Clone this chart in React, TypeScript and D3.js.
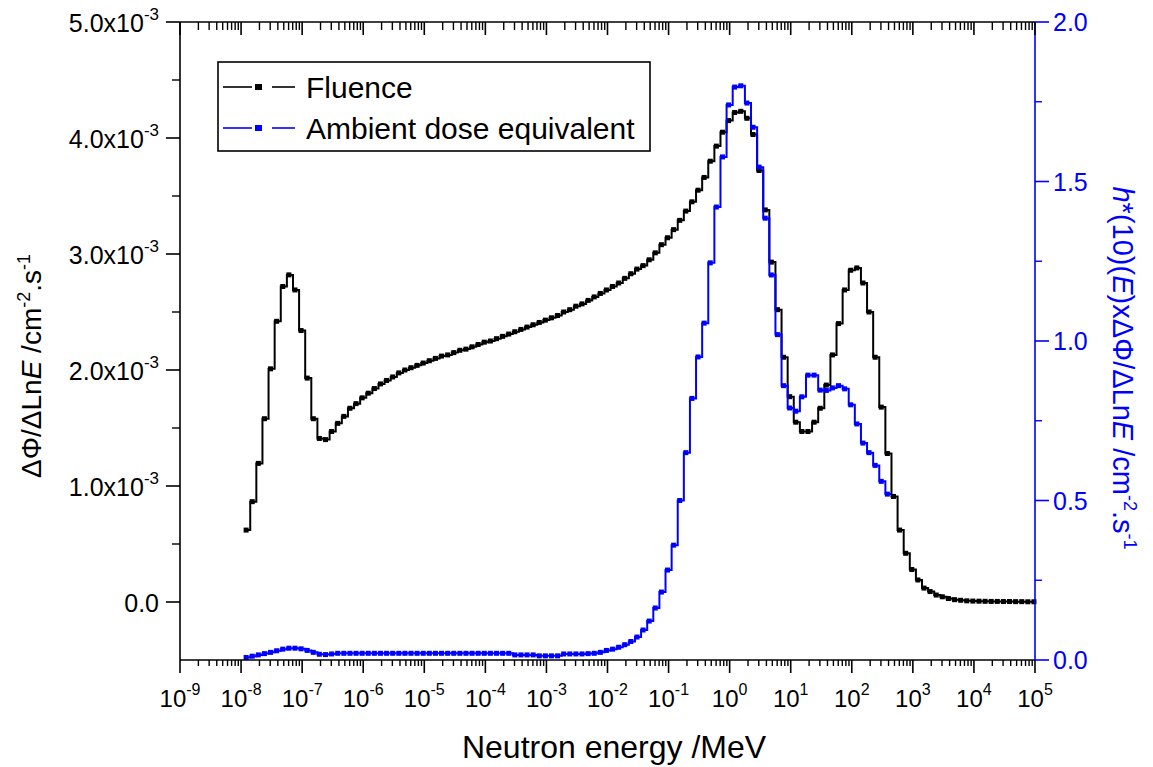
import React from "react";
import * as d3 from "d3";

// Equal-lethargy bins (0.1 decade), lower edge of first bin ~1.1e-8 MeV
const BIN_START_LOG10 = -7.95;
const BIN_WIDTH_LOG10 = 0.1;

// Fluence per unit lethargy (x 1e-3 cm^-2 s^-1), one value per bin
const FLUENCE = [
  0.62, 0.865, 1.195, 1.58, 2.01, 2.42, 2.72, 2.82, 2.69, 2.34,
  1.93, 1.58, 1.41, 1.40, 1.47, 1.54, 1.60, 1.67, 1.71, 1.76,
  1.80, 1.84, 1.88, 1.91, 1.94, 1.975, 2.00, 2.02, 2.04, 2.06,
  2.08, 2.10, 2.12, 2.13, 2.15, 2.17, 2.18, 2.20, 2.22, 2.24,
  2.25, 2.27, 2.29, 2.31, 2.33, 2.35, 2.37, 2.39, 2.41, 2.43,
  2.45, 2.47, 2.50, 2.52, 2.55, 2.57, 2.60, 2.63, 2.66, 2.69,
  2.72, 2.75, 2.79, 2.83, 2.87, 2.90, 2.95, 3.01, 3.08, 3.14,
  3.21, 3.29, 3.37, 3.45, 3.55, 3.66, 3.80, 3.93, 4.05, 4.15,
  4.22, 4.23, 4.17, 4.03, 3.72, 3.38, 2.93, 2.52, 2.11, 1.77,
  1.55, 1.47, 1.47, 1.55, 1.67, 1.87, 2.13, 2.40, 2.69, 2.86,
  2.88, 2.75, 2.50, 2.11, 1.68, 1.28, 0.91, 0.62, 0.42, 0.28,
  0.19, 0.12, 0.09, 0.06, 0.045, 0.03, 0.02, 0.015, 0.01, 0.008,
  0.007, 0.006, 0.005, 0.005, 0.004, 0.004, 0.003, 0.003, 0.002, 0.002,
];

// Ambient dose equivalent rate per unit lethargy (right axis), one value per bin
const DOSE = [
  0.008, 0.012, 0.016, 0.020, 0.024, 0.029, 0.034, 0.037, 0.037, 0.035,
  0.030, 0.024, 0.018, 0.017, 0.019, 0.021, 0.021, 0.021, 0.021, 0.021,
  0.021, 0.021, 0.021, 0.021, 0.021, 0.021, 0.021, 0.021, 0.021, 0.021,
  0.021, 0.021, 0.021, 0.021, 0.021, 0.021, 0.021, 0.021, 0.021, 0.021,
  0.021, 0.021, 0.021, 0.021, 0.016, 0.016, 0.016, 0.016, 0.013, 0.013,
  0.013, 0.013, 0.019, 0.019, 0.019, 0.019, 0.020, 0.021, 0.024, 0.030,
  0.034, 0.040, 0.048, 0.058, 0.072, 0.094, 0.122, 0.163, 0.213, 0.282,
  0.36, 0.50, 0.65, 0.82, 0.95, 1.056, 1.245, 1.42, 1.577, 1.74,
  1.796, 1.80, 1.746, 1.67, 1.545, 1.385, 1.207, 1.02, 0.86, 0.79,
  0.78, 0.825, 0.893, 0.893, 0.846, 0.845, 0.853, 0.86, 0.85, 0.80,
  0.74, 0.68, 0.65, 0.61, 0.56, 0.52,
];

const X_TICK_EXPONENTS = [-9, -8, -7, -6, -5, -4, -3, -2, -1, 0, 1, 2, 3, 4, 5];
const LEFT_MAJOR = [0, 1, 2, 3, 4, 5]; // x 1e-3
const LEFT_MINOR = [0.5, 1.5, 2.5, 3.5, 4.5];
const RIGHT_MAJOR = [0, 0.5, 1.0, 1.5, 2.0];
const RIGHT_MINOR = [0.25, 0.75, 1.25, 1.75];

const FONT = "'Liberation Sans', Arial, Helvetica, sans-serif";
const BLUE = "#0000ff";

const L = 180, R = 1035, T = 22, B = 660;

export default function App() {
  const x = d3.scaleLog().domain([1e-9, 1e5]).range([L, R]);
  const yL = d3.scaleLinear().domain([-0.5, 5]).range([B, T]);
  const yR = d3.scaleLinear().domain([0, 2]).range([B, T]);

  const edge = (i: number) => Math.pow(10, BIN_START_LOG10 + BIN_WIDTH_LOG10 * i);

  const stepPath = (vals: number[], ys: (v: number) => number) => {
    let d = "";
    vals.forEach((v, i) => {
      const x0 = x(edge(i));
      const x1 = x(Math.min(edge(i + 1), 1e5));
      const yy = ys(v);
      d += i === 0 ? `M${x0},${yy}` : `V${yy}`;
      d += `H${x1}`;
    });
    return d;
  };

  const minorX: number[] = [];
  for (let e = -9; e < 5; e++) {
    for (let m = 2; m <= 9; m++) minorX.push(m * Math.pow(10, e));
  }

  const markers = (vals: number[], ys: (v: number) => number, color: string) =>
    vals.map((v, i) => (
      <rect
        key={i}
        x={x(edge(i)) - 0.5}
        y={ys(v) - 2.5}
        width={5}
        height={5}
        fill={color}
      />
    ));

  return (
    <svg
      width={1153}
      height={767}
      style={{ position: "absolute", left: 0, top: 0, background: "#fff" }}
      fontFamily={FONT}
    >
      <rect x={0} y={0} width={1153} height={767} fill="#fff" />

      {/* data */}
      <g>
        <path d={stepPath(FLUENCE, yL)} fill="none" stroke="#000" strokeWidth={2} />
        {markers(FLUENCE, yL, "#000")}
        <path d={stepPath(DOSE, yR)} fill="none" stroke={BLUE} strokeWidth={2} />
        {markers(DOSE, yR, BLUE)}
      </g>

      {/* frame: bottom, top, left axes (black), right axis (blue) */}
      <line x1={L} x2={R} y1={B} y2={B} stroke="#000" strokeWidth={1.6} />
      <line x1={L} x2={R} y1={T} y2={T} stroke="#000" strokeWidth={1.6} />
      <line x1={L} x2={L} y1={T} y2={B} stroke="#000" strokeWidth={1.6} />
      <line x1={R} x2={R} y1={T} y2={B} stroke={BLUE} strokeWidth={1.6} />

      {/* x ticks bottom & top */}
      {X_TICK_EXPONENTS.map((e) => {
        const xx = x(Math.pow(10, e));
        return (
          <g key={"xt" + e}>
            <line x1={xx} x2={xx} y1={B} y2={B + 13} stroke="#000" strokeWidth={1.6} />
            <line x1={xx} x2={xx} y1={T} y2={T + 13} stroke="#000" strokeWidth={1.6} />
            <text x={xx} y={707} textAnchor="middle" fontSize={24} fill="#000">
              10
              <tspan dy={-12} fontSize={16}>
                {String(e)}
              </tspan>
            </text>
          </g>
        );
      })}
      {minorX.map((v, i) => {
        const xx = x(v);
        return (
          <g key={"xm" + i}>
            <line x1={xx} x2={xx} y1={B} y2={B + 6} stroke="#000" strokeWidth={1.4} />
            <line x1={xx} x2={xx} y1={T} y2={T + 8} stroke="#000" strokeWidth={1.4} />
          </g>
        );
      })}

      {/* left axis ticks */}
      {LEFT_MAJOR.map((v) => {
        const yy = yL(v);
        return (
          <g key={"lt" + v}>
            <line x1={L - 14} x2={L} y1={yy} y2={yy} stroke="#000" strokeWidth={1.6} />
            <text x={159} y={yy + 10} textAnchor="end" fontSize={25} fill="#000">
              {v === 0 ? (
                "0.0"
              ) : (
                <>
                  {v.toFixed(1) + "x10"}
                  <tspan dy={-12} fontSize={17}>
                    -3
                  </tspan>
                </>
              )}
            </text>
          </g>
        );
      })}
      {LEFT_MINOR.map((v) => (
        <line key={"lm" + v} x1={L - 8} x2={L} y1={yL(v)} y2={yL(v)} stroke="#000" strokeWidth={1.4} />
      ))}

      {/* right axis ticks */}
      {RIGHT_MAJOR.map((v) => {
        const yy = yR(v);
        return (
          <g key={"rt" + v}>
            <line x1={R} x2={R + 14} y1={yy} y2={yy} stroke={BLUE} strokeWidth={1.6} />
            <text x={1053} y={yy + 9} textAnchor="start" fontSize={25} fill={BLUE}>
              {v.toFixed(1)}
            </text>
          </g>
        );
      })}
      {RIGHT_MINOR.map((v) => (
        <line key={"rm" + v} x1={R} x2={R + 7} y1={yR(v)} y2={yR(v)} stroke={BLUE} strokeWidth={1.4} />
      ))}

      {/* axis titles */}
      <text x={614} y={758} textAnchor="middle" fontSize={32} fill="#000">
        Neutron energy /MeV
      </text>
      <text transform="translate(41,366) rotate(-90)" textAnchor="middle" fontSize={28} fill="#000">
        ΔΦ/ΔLn<tspan fontStyle="italic">E</tspan> /cm
        <tspan dy={-11} fontSize={18}>-2</tspan>
        <tspan dy={11}>.s</tspan>
        <tspan dy={-11} fontSize={18}>-1</tspan>
      </text>
      <text transform="translate(1113,368) rotate(90)" textAnchor="middle" fontSize={29} fill={BLUE}>
        <tspan fontStyle="italic">h</tspan>*(10)(<tspan fontStyle="italic">E</tspan>)xΔΦ/ΔLn
        <tspan fontStyle="italic">E</tspan> /cm
        <tspan dy={-11} fontSize={18}>-2</tspan>
        <tspan dy={11}>.s</tspan>
        <tspan dy={-11} fontSize={18}>-1</tspan>
      </text>

      {/* legend */}
      <rect x={218} y={62} width={432} height={89} fill="#fff" stroke="#000" strokeWidth={1.6} />
      <line x1={223} x2={252} y1={87} y2={87} stroke="#000" strokeWidth={1.6} />
      <rect x={255} y={84} width={7} height={6} fill="#000" />
      <line x1={272} x2={295} y1={87} y2={87} stroke="#000" strokeWidth={1.6} />
      <text x={306} y={98} fontSize={30} fill="#000">Fluence</text>
      <line x1={223} x2={252} y1={128} y2={128} stroke={BLUE} strokeWidth={1.6} />
      <rect x={255} y={125} width={7} height={6} fill={BLUE} />
      <line x1={272} x2={295} y1={128} y2={128} stroke={BLUE} strokeWidth={1.6} />
      <text x={306} y={139} fontSize={30} fill="#000">Ambient dose equivalent</text>
    </svg>
  );
}
